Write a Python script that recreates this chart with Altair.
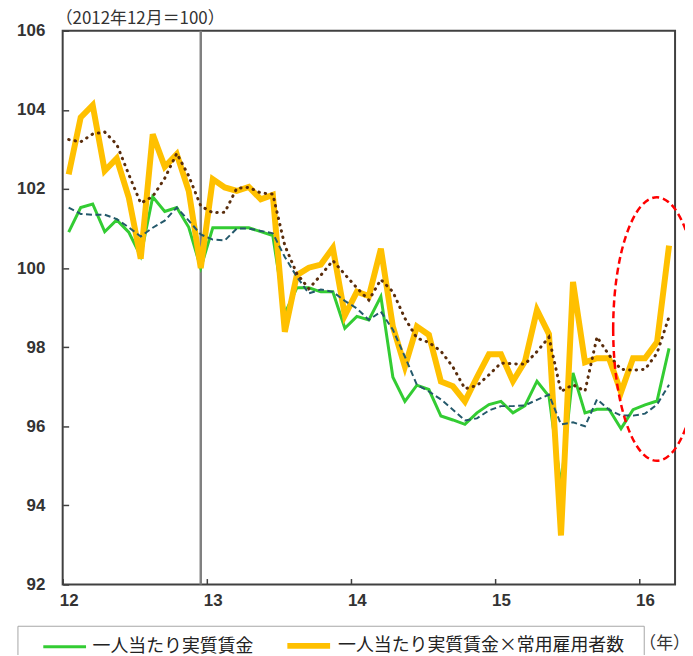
import altair as alt
import pandas as pd

# Monthly data, Jan 2012 (index 0) .. Mar 2016 (index 50); Dec 2012 = 100
month_index = list(range(51))

wage = [100.91, 101.53, 101.62, 100.92, 101.22, 100.91, 100.30, 101.80, 101.43, 101.53, 101.03, 100.00,
        101.02, 101.02, 101.02, 101.02, 100.92, 100.82, 98.85, 99.50, 99.50, 99.40, 99.40, 98.48,
        98.78, 98.69, 99.28, 97.24, 96.63, 97.04, 96.93, 96.26, 96.16, 96.05, 96.34, 96.55,
        96.63, 96.34, 96.52, 97.14, 96.76, 94.50, 97.35, 96.34, 96.43, 96.43, 95.94, 96.42,
        96.54, 96.64, 97.97]

wage_x_emp = [102.37, 103.81, 104.12, 102.46, 102.77, 101.79, 100.24, 103.38, 102.56, 102.88, 101.95, 100.00,
              102.25, 102.04, 101.95, 102.05, 101.74, 101.85, 98.39, 99.82, 100.01, 100.09, 100.51, 98.80,
              99.40, 99.29, 100.49, 98.52, 97.51, 98.52, 98.31, 97.13, 97.01, 96.63, 97.24, 97.82,
              97.82, 97.14, 97.64, 98.94, 98.33, 93.24, 99.65, 97.62, 97.72, 97.72, 96.86, 97.72,
              97.72, 98.13, 100.57]

wage_trend = [101.53, 101.37, 101.35, 101.35, 101.24, 101.03, 100.80, 101.02, 101.20, 101.53, 101.20, 100.85,
              100.72, 100.70, 101.00, 101.00, 100.94, 100.88, 100.28, 99.78, 99.36, 99.46, 99.40, 99.17,
              98.98, 98.69, 98.90, 98.44, 97.76, 97.05, 96.88, 96.68, 96.42, 96.15, 96.20, 96.40,
              96.51, 96.51, 96.53, 96.67, 96.80, 96.05, 96.10, 96.00, 96.68, 96.42, 96.27, 96.27,
              96.32, 96.55, 97.05]

wage_x_emp_trend = [103.25, 103.19, 103.39, 103.44, 103.13, 102.37, 101.64, 101.81, 102.27, 102.90, 102.33, 101.57,
                    101.40, 101.41, 102.02, 102.04, 101.90, 101.87, 100.57, 99.86, 99.48, 99.82, 100.19, 99.84,
                    99.50, 99.19, 99.71, 99.40, 98.73, 98.23, 98.12, 97.90, 97.50, 96.95, 97.03, 97.30,
                    97.60, 97.58, 97.57, 97.89, 98.25, 96.88, 97.05, 96.89, 98.26, 97.80, 97.44, 97.42,
                    97.44, 97.85, 98.77]

series_names = ["一人当たり実質賃金", "一人当たり実質賃金×常用雇用者数"]
year_ticks = [12, 13, 14, 15, 16]
value_ticks = [92, 94, 96, 98, 100, 102, 104, 106]
base_title = "（2012年12月＝100）"
year_unit = "（年）"

# month index -> fractional year (mid-month)
years = [12 + (m + 0.5) / 12 for m in month_index]
base_year = [12 + (11 + 0.5) / 12]  # Dec 2012

main_df = pd.DataFrame({
    "year": years + years,
    "value": wage + wage_x_emp,
    "series": [series_names[0]] * len(years) + [series_names[1]] * len(years),
})
trend1_df = pd.DataFrame({"year": years, "value": wage_trend})
trend2_df = pd.DataFrame({"year": years, "value": wage_x_emp_trend})

# annotation ellipse centre (data units)
ellipse_df = pd.DataFrame({"year": [16.124], "value": [98.46]})

X = alt.X("year:Q",
          scale=alt.Scale(domain=[12, 16.25], nice=False, zero=False),
          axis=alt.Axis(values=year_ticks, format="d", title=None, grid=False, domain=False,
                        tickSize=6, offset=-6, tickColor="#404040", tickWidth=1.5,
                        labelFont="Liberation Sans", labelFontWeight="bold", labelFontSize=17,
                        labelColor="#333333", labelPadding=8, labelOffset=6, labelFlush=False))
Y = alt.Y("value:Q",
          scale=alt.Scale(domain=[92, 106], nice=False, zero=False),
          axis=alt.Axis(values=value_ticks, title=None, grid=False, domain=False,
                        tickSize=6, offset=-6, tickColor="#404040", tickWidth=1.5,
                        labelFont="Liberation Sans", labelFontWeight="bold", labelFontSize=17,
                        labelColor="#333333", labelPadding=18))

legend_cfg = alt.Legend(title=None, orient="none", legendX=-21, legendY=594, direction="horizontal",
                        symbolType="stroke", symbolSize=1849, symbolStrokeWidth=4,
                        labelFont="Noto Sans CJK JP", labelFontSize=18, labelColor="#222222",
                        labelLimit=500, columnPadding=22, labelOffset=5)

base_line = alt.Chart(pd.DataFrame({"year": base_year})).mark_rule(
    color="#808080", strokeWidth=2.5).encode(x=alt.X("year:Q"))

main = alt.Chart(main_df).mark_line().encode(
    x=X, y=Y,
    color=alt.Color("series:N", scale=alt.Scale(domain=series_names, range=["#33CC33", "#FFC000"]),
                    legend=legend_cfg),
    strokeWidth=alt.StrokeWidth("series:N", scale=alt.Scale(domain=series_names, range=[3, 6]),
                                legend=None),
    detail="series:N",
)

trend1 = alt.Chart(trend1_df).mark_line(color="#24596B", strokeWidth=2, strokeDash=[6, 3.5]).encode(
    x="year:Q", y="value:Q")
trend2 = alt.Chart(trend2_df).mark_line(color="#5A2D0C", strokeWidth=3, strokeDash=[0.5, 6],
                                        strokeCap="round").encode(x="year:Q", y="value:Q")

ellipse_path = "M-0.332,0 A0.332,1 0 1,0 0.332,0 A0.332,1 0 1,0 -0.332,0 Z"
ellipse = alt.Chart(ellipse_df).mark_point(
    shape=ellipse_path, size=70225, filled=False, stroke="#FF0000", strokeWidth=2.5,
    strokeDash=[7, 4], opacity=1).encode(x="year:Q", y="value:Q")

title_text = alt.Chart(pd.DataFrame({"t": [base_title]})).mark_text(
    align="left", baseline="middle", font="Noto Sans CJK JP", fontSize=17, color="#333333"
).encode(text="t:N", x=alt.value(-7), y=alt.value(-12))

unit_text = alt.Chart(pd.DataFrame({"t": [year_unit]})).mark_text(
    align="left", baseline="middle", font="Noto Sans CJK JP", fontSize=17, color="#333333"
).encode(text="t:N", x=alt.value(580), y=alt.value(617))

legend_box = alt.Chart(pd.DataFrame({"k": [0]})).mark_rect(
    fill="white", stroke="#A6A6A6", strokeWidth=1
).encode(x=alt.value(-45), x2=alt.value(585), y=alt.value(599), y2=alt.value(690))

chart = alt.layer(
    legend_box, base_line, main, trend1, trend2, ellipse, title_text, unit_text
).properties(
    width=616, height=557,
    autosize=alt.AutoSizeParams(type="none"),
    padding={"left": 55, "top": 21, "right": 10, "bottom": 69},
).configure_view(stroke="#404040", strokeWidth=2)

chart.save("out.html", embed_options={"renderer": "svg", "actions": False})
